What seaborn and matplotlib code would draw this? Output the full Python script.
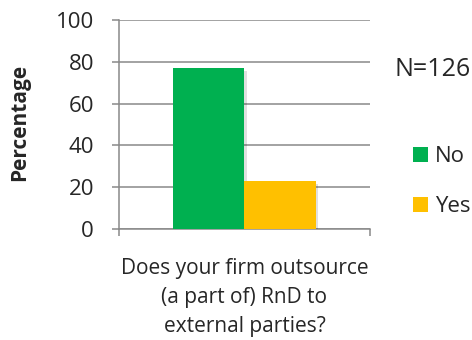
import matplotlib
matplotlib.use("Agg")
import matplotlib.pyplot as plt
import matplotlib.patheffects as pe
import seaborn as sns
import pandas as pd
from matplotlib.patches import Patch

# Survey answers (percent of respondents)
question = ["Does your firm outsource\n(a part of) RnD to\nexternal parties?"]
answers = ["No", "Yes"]
percentages = [77, 23]
sample_label = "N=126"
y_ticks = [0, 20, 40, 60, 80, 100]

colors = {"No": "#00B050", "Yes": "#FFC000"}
grid_color = "#898989"

sns.set_theme(style="white")
plt.rcParams["font.family"] = ["Open Sans", "DejaVu Sans"]

df = pd.DataFrame({
    "question": question * len(answers),
    "answer": answers,
    "pct": percentages,
})

fig = plt.figure(figsize=(4.72, 3.40), dpi=100)
ax = fig.add_axes([0.2521, 0.3265, 0.5318, 0.6147])

sns.barplot(data=df, x="question", y="pct", hue="answer", palette=colors,
            width=0.566, ax=ax, legend=False, saturation=1, linewidth=0,
            zorder=3)

# soft drop shadow under the bars
for bar in ax.patches:
    bar.set_path_effects([
        pe.SimplePatchShadow(offset=(2, -2), shadow_rgbFace="#000000", alpha=0.12),
        pe.Normal(),
    ])

ax.set_ylim(0, 100)
ax.set_xlim(-0.5, 0.5)
ax.set_yticks(y_ticks)
ax.set_yticklabels([str(t) for t in y_ticks], fontsize=16)
ax.yaxis.grid(True, color=grid_color, linewidth=1.1, zorder=0)
ax.set_axisbelow(True)

# category boundaries as tick marks, category name centered underneath
ax.set_xticks([-0.5, 0.5])
ax.set_xticklabels(["", ""])
ax.set_xticks([0], minor=True)
ax.set_xticklabels(question, minor=True, fontsize=15, linespacing=1.5)
ax.tick_params(axis="x", which="minor", length=0, pad=21)
ax.tick_params(axis="x", which="major", length=5, width=1.1,
               color=grid_color, direction="out", bottom=True)
ax.tick_params(axis="y", length=5, width=1.1, color=grid_color,
               direction="out", left=True, pad=13)

ax.set_xlabel("")
ax.set_ylabel("Percentage", fontsize=15, fontweight="bold")
ax.yaxis.label.set_va("center")
ax.yaxis.set_label_coords((20 - 119) / 251, 0.51)

for side in ["top", "right"]:
    ax.spines[side].set_visible(False)
for side in ["left", "bottom"]:
    ax.spines[side].set_color(grid_color)
    ax.spines[side].set_linewidth(1.1)

fig.text(0.835, 0.7765, sample_label, fontsize=18, va="baseline", ha="left")

handles = [Patch(facecolor=colors[a], edgecolor="none", label=a) for a in answers]
fig.legend(handles=handles, loc="center left", bbox_to_anchor=(0.875, 0.466),
           frameon=False, fontsize=16, handlelength=0.67, handleheight=0.67,
           handletextpad=0.31, labelspacing=1.32, borderpad=0, borderaxespad=0)

fig.savefig("out.png", dpi=100, facecolor="white")
